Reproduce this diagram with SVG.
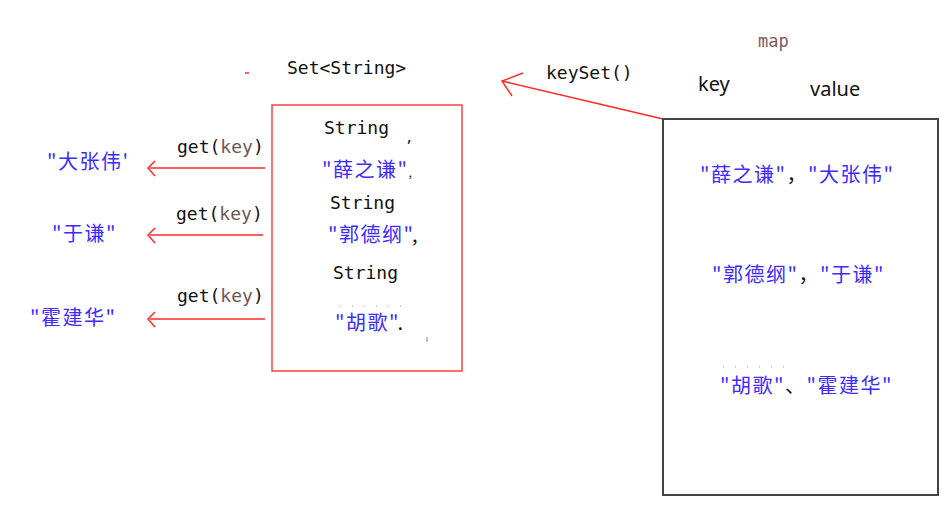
<svg xmlns="http://www.w3.org/2000/svg" width="951" height="506" viewBox="0 0 951 506">
<style>
.mono{font-family:"DejaVu Sans Mono","Liberation Mono",monospace;font-size:18px;fill:#111}
.sans{font-family:"Noto Sans","Liberation Sans",sans-serif;font-size:20px;fill:#111}
.cn{font-family:"Noto Sans CJK SC","Noto Sans",sans-serif;font-size:20px;letter-spacing:1.5px;fill:#3d2bff}
.pk{fill:#111}
.arr{stroke:#ff2a2a;stroke-width:1.5;fill:none}
</style>
<rect width="951" height="506" fill="#fff"/>
<g id="connectors">
  <line class="arr" x1="663" y1="119" x2="502" y2="81"/>
  <polyline class="arr" points="523,73 502,81 512,96"/>
  <line class="arr" x1="265" y1="168" x2="150" y2="168"/>
  <polyline class="arr" points="155,161 148,168 155,176"/>
  <line class="arr" x1="263" y1="235" x2="150" y2="235"/>
  <polyline class="arr" points="155,228 148,235 155,243"/>
  <line class="arr" x1="265" y1="319" x2="150" y2="319"/>
  <polyline class="arr" points="155,312 148,319 155,327"/>
  <line x1="245" y1="73" x2="249" y2="73" stroke="#ff2a2a" stroke-width="1.5"/>
</g>
<g id="set-label">
  <text class="mono" x="287" y="74">Set&lt;String&gt;</text>
</g>
<g id="set-box">
  <rect x="272" y="105" width="190" height="266" fill="none" stroke="#ff4040" stroke-width="1.5"/>
  <text class="mono" x="324" y="134">String</text>
  <text class="mono" x="405" y="142" style="font-size:14px">,</text>
  <text class="cn" x="322" y="177">"薛之谦"<tspan class="pk" style="font-size:12px">,</tspan></text>
  <text class="mono" x="330" y="209">String</text>
  <text class="cn" x="328" y="242">"郭德纲"<tspan class="pk">,</tspan></text>
  <text class="mono" x="333" y="279">String</text>
  <line x1="340" y1="306" x2="412" y2="306" stroke="#8aa" stroke-width="1" stroke-dasharray="1,11"/>
  <text class="cn" x="335" y="330">"胡歌"<tspan class="pk">.</tspan></text>
  <line x1="427" y1="337" x2="427" y2="342" stroke="#a060d0" stroke-width="1"/>
</g>
<g id="keyset-label">
  <text class="mono" x="546" y="79">keySet()</text>
</g>
<g id="map-header">
  <text class="mono" x="758" y="47" style="font-size:17px;fill:#7a5a5a">map</text>
  <text class="sans" x="698" y="91">key</text>
  <text class="sans" x="810" y="96">value</text>
</g>
<g id="map-box">
  <rect x="663" y="119" width="275" height="376" fill="none" stroke="#444" stroke-width="2"/>
  <text class="cn" x="700" y="182">"薛之谦"<tspan class="pk">，</tspan>"大张伟"</text>
  <text class="cn" x="712" y="282">"郭德纲"<tspan class="pk">，</tspan>"于谦"</text>
  <line x1="723" y1="367" x2="795" y2="367" stroke="#8aa" stroke-width="1" stroke-dasharray="1,11"/>
  <text class="cn" x="720" y="393">"胡歌"<tspan class="pk">、</tspan>"霍建华"</text>
</g>
<g id="get1">
  <text class="mono" x="177" y="153">get(<tspan fill="#6b5656">key</tspan>)</text>
  <text class="cn" x="47" y="169">"大张伟'</text>
</g>
<g id="get2">
  <text class="mono" x="176" y="220">get(<tspan fill="#6b5656">key</tspan>)</text>
  <text class="cn" x="52" y="241">"于谦"</text>
</g>
<g id="get3">
  <text class="mono" x="177" y="302">get(<tspan fill="#6b5656">key</tspan>)</text>
  <text class="cn" x="30" y="325">"霍建华"</text>
</g>
</svg>
